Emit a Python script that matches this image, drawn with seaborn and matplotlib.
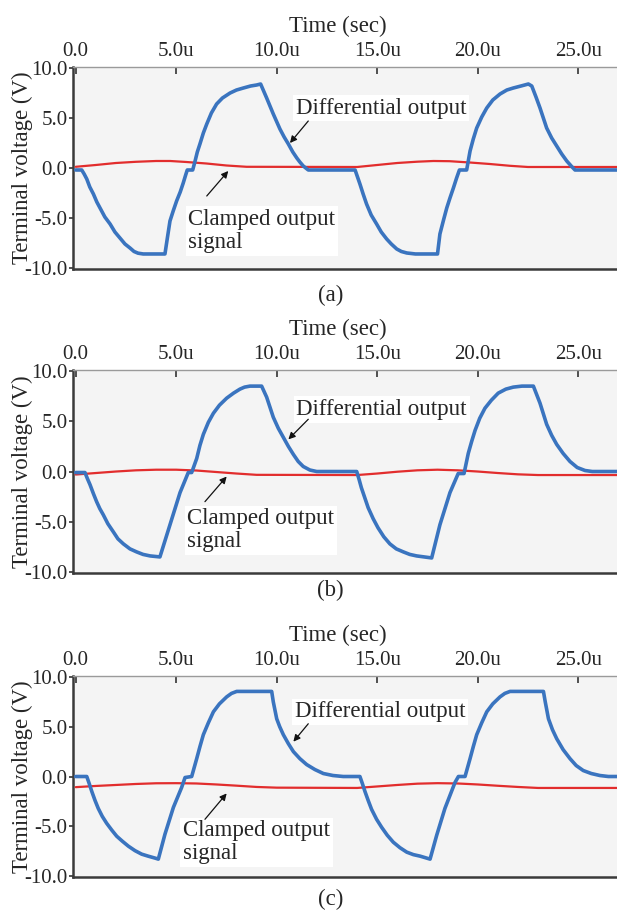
import matplotlib
matplotlib.use("Agg")
import matplotlib.pyplot as plt
import pandas as pd
import seaborn as sns

# ---- axis ticks (time in microseconds, voltage in volts) ----
x_ticks = [0, 5, 10, 15, 20, 25]
x_tick_labels = ["0.0", "5.0u", "10.0u", "15.0u", "20.0u", "25.0u"]
y_ticks = [-10, -5, 0, 5, 10]
y_tick_labels = ["-10.0", "-5.0", "0.0", "5.0", "10.0"]
panel_names = ["(a)", "(b)", "(c)"]

# ---- panel (a) ----
diff_t_a = [0, 0.3, 0.42, 0.55, 0.7, 0.88, 1.05, 1.21, 1.45, 1.71, 1.95, 2.2, 2.45, 2.7,
            2.9, 3.1, 3.36, 4.44, 4.56, 4.69, 4.85, 5.02, 5.2, 5.35, 5.47, 5.55, 5.82,
            5.94, 6.05, 6.18, 6.35, 6.52, 6.75, 7.01, 7.3, 7.68, 8.0, 8.34, 8.7, 9.0,
            9.2, 9.5, 9.83, 10.16, 10.37, 10.58, 10.8, 11.0, 11.15, 11.32, 11.57,
            13.9, 14.02, 14.14, 14.3, 14.47, 14.7, 14.97, 15.2, 15.47, 15.7, 15.97,
            16.2, 16.47, 16.9, 18.0, 18.12, 18.3, 18.46, 18.62, 18.79, 18.95, 19.09,
            19.45, 19.62, 19.78, 19.95, 20.2, 20.45, 20.75, 21.11, 21.45, 21.77, 22.15,
            22.52, 22.69, 22.9, 23.1, 23.43, 23.68, 23.93, 24.18, 24.43, 24.65, 24.84,
            27.0]
diff_v_a = [-0.2, -0.2, -0.6, -1.1, -1.9, -2.6, -3.4, -4.0, -4.9, -5.6, -6.4, -7.0, -7.6, -8.0,
            -8.35, -8.52, -8.6, -8.6, -7.0, -5.3, -4.3, -3.3, -2.4, -1.5, -0.7, -0.2, -0.2,
            0.7, 1.6, 2.4, 3.5, 4.4, 5.5, 6.4, 7.0, 7.5, 7.8, 8.0, 8.2, 8.3,
            8.4, 7.0, 5.4, 3.9, 3.1, 2.4, 1.6, 1.0, 0.6, 0.2, -0.2,
            -0.2, -0.9, -1.6, -2.6, -3.6, -4.7, -5.6, -6.4, -7.1, -7.6, -8.1,
            -8.35, -8.5, -8.6, -8.6, -6.6, -5.2, -4.0, -3.0, -2.0, -1.0, -0.2,
            -0.2, 1.7, 2.9, 4.0, 5.1, 6.0, 6.8, 7.4, 7.8, 8.0, 8.2,
            8.4, 8.2, 7.1, 6.0, 4.0, 3.0, 2.2, 1.4, 0.7, 0.2, -0.2,
            -0.2]
clamp_t_a = [0, 1, 2, 3, 4, 4.7, 5.5, 6.5, 7.5, 8.5, 14, 15, 16, 17, 17.8, 18.6, 19.6,
             20.6, 21.6, 22.5, 27]
clamp_v_a = [0.12, 0.3, 0.5, 0.62, 0.7, 0.7, 0.6, 0.45, 0.25, 0.12, 0.1, 0.3, 0.5, 0.63,
             0.7, 0.68, 0.55, 0.4, 0.22, 0.1, 0.1]

# ---- panel (b) ----
diff_t_b = [0, 0.46, 0.58, 0.71, 0.88, 1.04, 1.2, 1.37, 1.6, 1.87, 2.1, 2.37, 2.7, 3.03,
            3.35, 3.7, 4.19, 4.69, 5.19, 5.6, 5.77, 6.02, 6.18, 6.35, 6.6, 6.85, 7.15,
            7.51, 7.85, 8.17, 8.4, 8.67, 9.25, 9.5, 9.83, 10.08, 10.33, 10.58, 10.83,
            11.07, 11.32, 11.65, 11.99, 13.98, 14.1, 14.21, 14.38, 14.55, 14.8, 15.04,
            15.33, 15.63, 15.95, 16.3, 16.62, 16.96, 17.71, 18.12, 18.62, 19.03, 19.32,
            19.53, 19.7, 19.87, 20.1, 20.36, 20.68, 21.02, 21.4, 21.77, 22.2, 22.77,
            23.1, 23.43, 23.68, 23.93, 24.25, 24.59, 24.95, 25.34, 25.7, 27.0]
diff_v_b = [-0.1, -0.1, -0.7, -1.3, -2.2, -3.0, -3.7, -4.3, -5.2, -6.0, -6.7, -7.2, -7.7, -8.0,
            -8.25, -8.4, -8.5, -5.3, -2.1, -0.1, -0.1, 1.3, 2.6, 3.7, 4.9, 5.8, 6.6,
            7.3, 7.8, 8.2, 8.4, 8.5, 8.5, 7.4, 5.4, 4.3, 3.4, 2.5, 1.7,
            1.0, 0.5, 0.15, 0.0, 0.0, -0.8, -1.6, -2.6, -3.6, -4.7, -5.6,
            -6.5, -7.2, -7.7, -8.0, -8.25, -8.4, -8.6, -5.3, -2.1, -0.2, -0.2,
            1.8, 3.0, 4.1, 5.3, 6.3, 7.1, 7.8, 8.2, 8.4, 8.5, 8.5,
            6.8, 4.7, 3.6, 2.7, 1.8, 1.0, 0.4, 0.1, 0.0, 0.0]
clamp_t_b = [0, 1, 2, 3, 4, 5, 6, 7, 8, 9, 14, 15, 16, 17, 18, 19, 20, 21, 22, 23, 27]
clamp_v_b = [-0.3, -0.15, 0.0, 0.12, 0.18, 0.18, 0.1, -0.05, -0.2, -0.33, -0.35, -0.2,
             -0.02, 0.12, 0.18, 0.12, 0.0, -0.15, -0.28, -0.35, -0.35]

# ---- panel (c) ----
diff_t_c = [0, 0.55, 0.67, 0.8, 0.96, 1.12, 1.32, 1.54, 1.8, 2.04, 2.32, 2.62, 2.95, 3.28,
            3.6, 3.95, 4.11, 4.44, 4.86, 5.27, 5.44, 5.77, 6.02, 6.18, 6.35, 6.6, 6.85,
            7.15, 7.51, 7.75, 8.01, 9.75, 9.83, 10.0, 10.15, 10.33, 10.58, 10.83, 11.15,
            11.49, 11.9, 12.32, 12.8, 13.31, 14.14, 14.26, 14.39, 14.55, 14.72, 14.97,
            15.22, 15.5, 15.8, 16.13, 16.47, 16.8, 17.13, 17.63, 17.96, 18.37, 18.87,
            19.04, 19.37, 19.62, 19.78, 19.95, 20.2, 20.45, 20.75, 21.11, 21.35, 21.61,
            23.27, 23.36, 23.52, 23.72, 23.93, 24.25, 24.59, 24.9, 25.25, 25.65, 26.08,
            26.5, 27.0]
diff_v_c = [0.0, 0.0, -0.7, -1.5, -2.4, -3.2, -4.0, -4.7, -5.4, -6.0, -6.5, -7.0, -7.45, -7.8,
            -8.0, -8.2, -8.3, -5.8, -3.1, -1.1, -0.1, 0.0, 1.8, 3.0, 4.2, 5.4, 6.5,
            7.3, 8.0, 8.35, 8.55, 8.55, 7.5, 5.8, 5.0, 4.2, 3.3, 2.5, 1.8,
            1.2, 0.7, 0.3, 0.1, 0.0, 0.0, -0.7, -1.5, -2.4, -3.3, -4.3,
            -5.1, -5.9, -6.6, -7.15, -7.6, -7.85, -8.0, -8.3, -5.9, -3.2, -0.6,
            0.0, 0.0, 1.8, 3.0, 4.2, 5.4, 6.5, 7.3, 8.0, 8.35, 8.55,
            8.55, 7.5, 5.8, 4.7, 3.8, 2.7, 1.8, 1.1, 0.6, 0.3, 0.1,
            0.0, 0.0]
clamp_t_c = [0, 1, 2, 3, 4, 5, 6, 7, 8, 9, 10, 14, 15, 16, 17, 18, 19, 20, 21, 22, 23, 27]
clamp_v_c = [-1.07, -0.95, -0.85, -0.75, -0.68, -0.67, -0.7, -0.8, -0.92, -1.05, -1.12,
             -1.15, -1.0, -0.85, -0.72, -0.67, -0.7, -0.8, -0.93, -1.05, -1.15, -1.15]

panels = [
    (diff_t_a, diff_v_a, clamp_t_a, clamp_v_a),
    (diff_t_b, diff_v_b, clamp_t_b, clamp_v_b),
    (diff_t_c, diff_v_c, clamp_t_c, clamp_v_c),
]

# annotation placement per panel: text anchors and arrow (tail, head) in data units
diff_text_pos = [(10.97, 6.0), (10.98, 6.15), (10.9, 6.5)]
diff_arrows = [((11.57, 4.7), (10.66, 2.5)), ((11.57, 5.2), (10.58, 3.2)),
               ((11.57, 5.3), (10.83, 3.5))]
clamp_text_pos = [(5.6, -6.3), (5.55, -5.85), (5.35, -6.6)]
clamp_arrows = [((6.52, -2.8), (7.59, -0.3)), ((6.43, -3.0), (7.51, -0.5)),
                ((6.43, -4.3), (7.51, -1.7))]

# axes rectangles (figure fractions) and caption heights
axes_rects = [(0.1188, 0.7054, 0.8812, 0.2212),
              (0.1188, 0.3724, 0.8812, 0.2223),
              (0.1188, 0.0394, 0.8812, 0.2202)]
caption_y = [0.676, 0.353, 0.0145]

sns.set_style("ticks")
plt.rcParams["font.family"] = ["Liberation Serif", "DejaVu Serif"]
plt.rcParams["axes.unicode_minus"] = False

BLUE = "#3a74bf"
RED = "#e22d2d"
TEXT_SIZE = 16.5
TICK_SIZE = 15

fig = plt.figure(figsize=(6.17, 9.13), dpi=100)
fig.patch.set_facecolor("white")

for i, (dt, dv, ct, cv) in enumerate(panels):
    ax = fig.add_axes(axes_rects[i])
    ax.set_facecolor("#f4f4f4")

    diff_df = pd.DataFrame({"t": dt, "v": dv})
    clamp_df = pd.DataFrame({"t": ct, "v": cv})
    sns.lineplot(data=clamp_df, x="t", y="v", ax=ax, color=RED, linewidth=1.6,
                 sort=False, estimator=None, zorder=3)
    sns.lineplot(data=diff_df, x="t", y="v", ax=ax, color=BLUE, linewidth=2.6,
                 sort=False, estimator=None, zorder=4, solid_joinstyle="round")

    ax.set_xlim(-0.12, 26.93)
    ax.set_ylim(-10.1, 10.1)

    ax.xaxis.tick_top()
    ax.xaxis.set_label_position("top")
    ax.set_xticks(x_ticks)
    ax.set_xticklabels(x_tick_labels)
    ax.set_yticks(y_ticks)
    ax.set_yticklabels(y_tick_labels)
    ax.tick_params(axis="x", which="both", direction="in", length=5, width=1.2,
                   color="#333333", pad=4.5, labelsize=TICK_SIZE, top=True,
                   bottom=False, labelbottom=False, labeltop=True)
    ax.tick_params(axis="y", direction="out", length=3, width=1.2, color="#333333",
                   pad=1, labelsize=TICK_SIZE)

    ax.set_xlabel("Time (sec)", fontsize=TEXT_SIZE)
    ax.xaxis.set_label_coords(0.4866, 1.172)
    ax.xaxis.label.set_verticalalignment("baseline")
    ax.set_ylabel("Terminal voltage (V)", fontsize=TEXT_SIZE)
    ax.yaxis.set_label_coords(-0.094, 0.5)
    ax.yaxis.label.set_verticalalignment("center")

    ax.spines["right"].set_visible(False)
    ax.spines["top"].set_color("#9a9a9a")
    ax.spines["top"].set_linewidth(1.0)
    for side in ("left", "bottom"):
        ax.spines[side].set_color("#3a3a3a")
        ax.spines[side].set_linewidth(1.8)

    # labels with white backing and pointer arrows
    box = dict(facecolor="white", edgecolor="none", pad=2)
    tx, ty = diff_text_pos[i]
    ax.text(tx, ty, "Differential output", fontsize=TEXT_SIZE, ha="left", va="center",
            bbox=box, zorder=5)
    tx, ty = clamp_text_pos[i]
    ax.text(tx, ty, "Clamped output\nsignal", fontsize=TEXT_SIZE, ha="left", va="center",
            linespacing=1.1, bbox=box, zorder=5)
    for tail, head in (diff_arrows[i], clamp_arrows[i]):
        ax.annotate("", xy=head, xytext=tail,
                    arrowprops=dict(arrowstyle="-|>", color="#111111", lw=0.9,
                                    mutation_scale=10, shrinkA=0, shrinkB=0),
                    zorder=6)

    fig.text(0.536, caption_y[i], panel_names[i], fontsize=TEXT_SIZE,
             ha="center", va="center")

fig.savefig("out.png", dpi=100, facecolor=fig.get_facecolor())
